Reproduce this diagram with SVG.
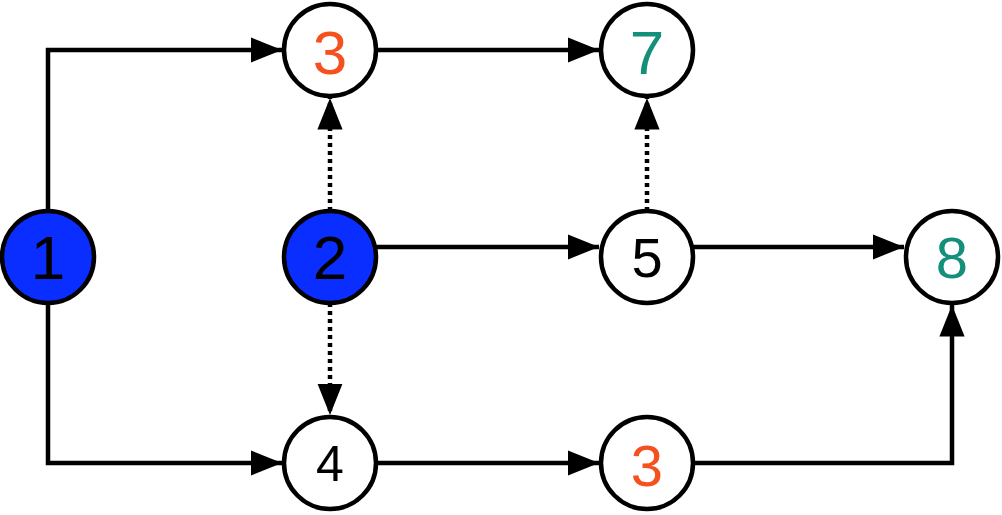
<svg xmlns="http://www.w3.org/2000/svg" width="1002" height="515" viewBox="0 0 1002 515">
<style>
.n{stroke:#000;stroke-width:4.5}
.w{fill:#fff}.b{fill:#0a2eff}
.t{font-family:"Liberation Sans",Arial,sans-serif;text-anchor:middle;dominant-baseline:central}
.e{fill:none;stroke:#000;stroke-width:4.5}
.d{stroke-dasharray:4 4}
</style>
<defs><marker id="a" markerWidth="8" markerHeight="8" refX="7" refY="4" orient="auto" markerUnits="strokeWidth"><path d="M0,1.2 L7,4 L0,6.8Z" fill="#000"/></marker></defs>
<g id="connectors">
<path class="e" d="M48,212 V50 H282" marker-end="url(#a)"/>
<path class="e" d="M48,303 V463 H282" marker-end="url(#a)"/>
<path class="e" d="M376,50 H599" marker-end="url(#a)"/>
<path class="e d" d="M330,211 V98" marker-end="url(#a)"/>
<path class="e d" d="M330,303 V415" marker-end="url(#a)"/>
<path class="e d" d="M647,211 V98" marker-end="url(#a)"/>
<path class="e" d="M376,247 H599" marker-end="url(#a)"/>
<path class="e" d="M693,247 H904" marker-end="url(#a)"/>
<path class="e" d="M376,463 H599" marker-end="url(#a)"/>
<path class="e" d="M693,463 H952 V305" marker-end="url(#a)"/>
</g>
<g id="n1"><circle class="n b" cx="48" cy="257" r="46"/><text class="t" x="48" y="257" font-size="62">1</text></g>
<g id="n3a"><circle class="n w" cx="330" cy="50" r="46"/><text class="t" x="330" y="52" font-size="62" fill="#f4511e">3</text></g>
<g id="n7"><circle class="n w" cx="647" cy="50" r="46"/><text class="t" x="647" y="52" font-size="62" fill="#138f7a">7</text></g>
<g id="n2"><circle class="n b" cx="330" cy="257" r="46"/><text class="t" x="330" y="257" font-size="62">2</text></g>
<g id="n5"><circle class="n w" cx="647" cy="257" r="46"/><text class="t" x="647" y="257" font-size="56">5</text></g>
<g id="n8"><circle class="n w" cx="952" cy="257" r="46"/><text class="t" x="952" y="257" font-size="58" fill="#138f7a">8</text></g>
<g id="n4"><circle class="n w" cx="330" cy="463" r="46"/><text class="t" x="330" y="464" font-size="50">4</text></g>
<g id="n3b"><circle class="n w" cx="647" cy="463" r="46"/><text class="t" x="647" y="465" font-size="58" fill="#f4511e">3</text></g>
</svg>
